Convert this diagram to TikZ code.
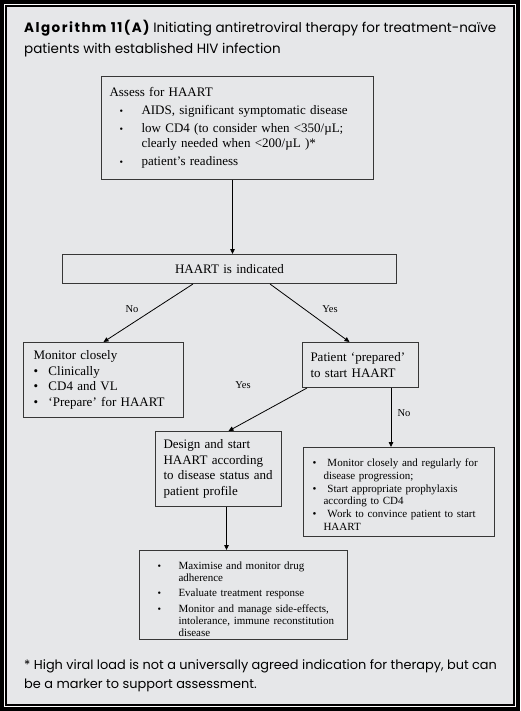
\documentclass[tikz,border=0pt]{standalone}
\usepackage{fontspec}
\setmainfont{Liberation Serif}
\newfontfamily\headfont{Poppins}
\usetikzlibrary{arrows.meta}
\definecolor{figbg}{RGB}{230,231,233}
\definecolor{boxline}{RGB}{55,55,55}
\setlength{\parindent}{0pt}
% bullet line with hanging indent: [bullet]{bullet offset}{text indent}
\newcommand\bitem[3][\textbullet]{\par\hangindent=#3\hangafter=1\noindent\makebox[#3][l]{\hspace*{#2}#1}}
\newcommand\smallbul{{\fontsize{10}{10}\selectfont\textbullet}}
\tikzset{
  box/.style={draw=boxline,line width=1pt,anchor=north west,inner ysep=0pt,align=left,font=\fontsize{13}{15.5}\selectfont},
  smallbox/.style={box,font=\fontsize{11}{12.8}\selectfont},
  arr/.style={-{Triangle[length=5pt,width=4.5pt]},line width=0.8pt},
  lbl/.style={font=\fontsize{10.5}{12}\selectfont,inner sep=0pt}
}
\begin{document}
\begin{tikzpicture}[x=1pt,y=1pt,yscale=-1,xscale=1]
	\useasboundingbox (0,0) rectangle (520,711);
	% frame
	\fill[black] (0,0) rectangle (520,711);
	\fill[white] (4,4) rectangle (516,707);
	\fill[black] (5.3,5.3) rectangle (514.7,705.7);
	\fill[figbg] (7,7) rectangle (513,704);

	\node[anchor=north west,inner sep=0pt,align=left,font=\headfont\fontsize{13.5}{21}\selectfont] (title) at (24,20)
		{{\bfseries\addfontfeature{LetterSpace=11}Algorithm 11(A)} Initiating antiretroviral therapy for treatment-naïve\\patients with established HIV infection};

	\node[box,inner xsep=8pt,text width=256pt,minimum height=103pt] (assess) at (101,76) {Assess for HAART\setlength{\parskip}{2.5pt}
		\bitem[\smallbul]{10pt}{32pt}AIDS, significant symptomatic disease
		\bitem[\smallbul]{10pt}{32pt}low CD4 (to consider when <350/µL;\newline clearly needed when <200/µL )*
		\bitem[\smallbul]{10pt}{32pt}patient’s readiness\par\vspace{4pt}};
	\node[box,inner xsep=8pt,text width=318pt,minimum height=29pt,align=center] (haart) at (62,254) {HAART is indicated};
	\node[box,inner xsep=10pt,text width=140pt,minimum height=75pt] (monitor) at (23,342) {Monitor closely
		\bitem{0pt}{15pt}Clinically
		\bitem{0pt}{15pt}CD4 and VL
		\bitem{0pt}{15pt}‘Prepare’ for HAART\par};
	\node[box,inner xsep=8pt,text width=100pt,minimum height=45pt] (patient) at (302,342) {Patient ‘prepared’\\to start HAART};
	\node[box,inner xsep=8pt,text width=110pt,minimum height=75pt] (design) at (155,431) {Design and start\\HAART according\\to disease status and\\patient profile};
	\node[smallbox,inner xsep=9pt,text width=173pt,minimum height=89pt] (notready) at (303,447) {%
		\bitem{0pt}{11pt}\hspace{4pt}Monitor closely and regularly for\newline disease progression;
		\bitem{0pt}{11pt}\hspace{4pt}Start appropriate prophylaxis\newline according to CD4
		\bitem{0pt}{11pt}\hspace{4pt}Work to convince patient to start\newline HAART\par\vspace{5pt}};
	\node[smallbox,inner xsep=8pt,text width=192pt,minimum height=89pt,font=\fontsize{11}{12}\selectfont] (followup) at (139,550) {\setlength{\parskip}{3.5pt}%
		\bitem[\smallbul]{10pt}{31pt}Maximise and monitor drug\newline adherence
		\bitem[\smallbul]{10pt}{31pt}Evaluate treatment response
		\bitem[\smallbul]{10pt}{31pt}Monitor and manage side-effects,\newline intolerance, immune reconstitution\newline disease\par\vspace{5pt}};

	% connectors
	\draw[arr] ([xshift=-5pt]assess.south) -- ([xshift=-5pt]assess.south |- haart.north);
	\draw[arr] ([xshift=131pt]haart.south west) -- (monitor.north);
	\draw[arr] ([xshift=208pt]haart.south west) -- ([xshift=-11pt]patient.north);
	\draw[arr] ([xshift=5pt]patient.south west) -- ([xshift=10pt]design.north);
	\draw[arr] ([xshift=-28pt]patient.south east) -- ([xshift=-28pt]patient.south east |- notready.north);
	\draw[arr] ([xshift=8pt]design.south) -- ([xshift=8pt]design.south |- followup.north);

	\node[lbl] (no1) at (132,309) {No};
	\node[lbl] (yes1) at (330,309) {Yes};
	\node[lbl] (yes2) at (243,385) {Yes};
	\node[lbl] (no2) at (404,413) {No};

	\node[anchor=north west,inner sep=0pt,align=left,font=\headfont\fontsize{12.9}{19}\selectfont] (note) at (24,659)
		{* High viral load is not a universally agreed indication for therapy, but can\\be a marker to support assessment.};
\end{tikzpicture}
\end{document}
